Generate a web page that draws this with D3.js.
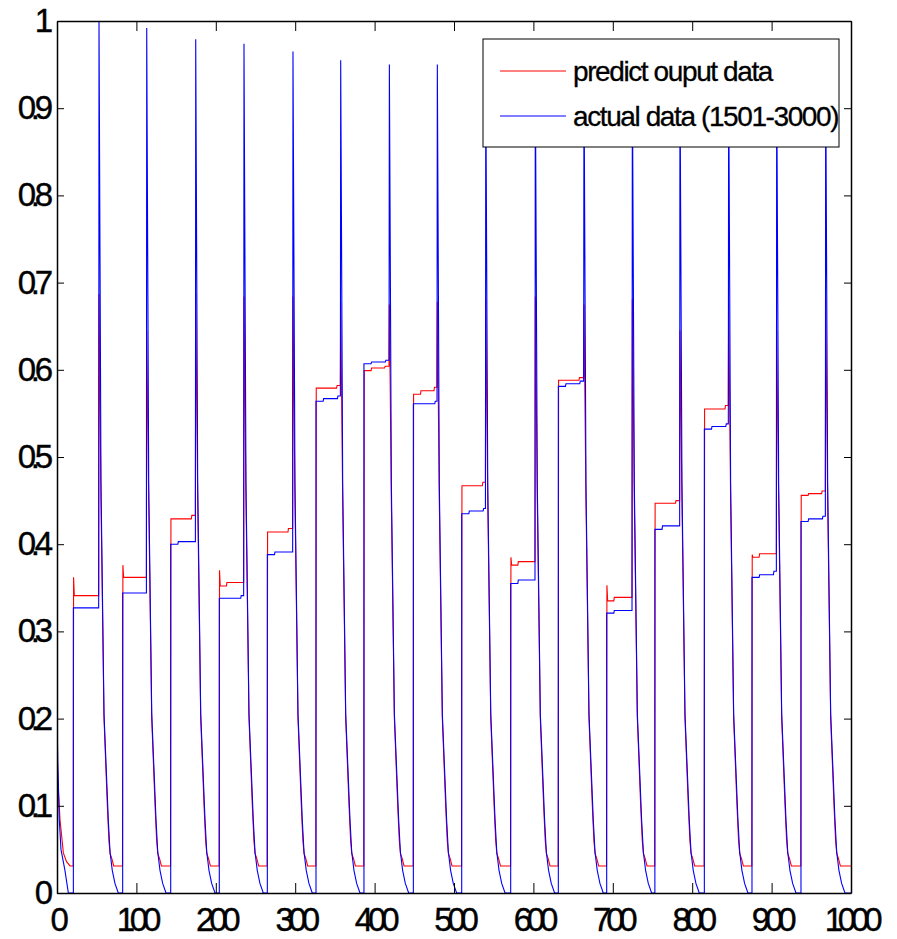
<!DOCTYPE html>
<html>
<head>
<meta charset="utf-8">
<script src="https://cdn.jsdelivr.net/npm/d3@7"></script>
<style>
  body { margin: 0; background: #fff; }
  svg { display: block; }
  text { font-family: "Liberation Sans", Arial, sans-serif; fill: #000; }
</style>
</head>
<body>
<script>
var w = 897;
var h = 939;
var margin = {top: 21, right: 46, bottom: 46, left: 57};

// x positions (sample index) where each cycle rises and where it spikes
var riseX = [20.6, 82.7, 143.2, 204.4, 264.9, 326.2, 386.6, 448.8, 509.7, 571.4, 631.4, 692.3, 753, 815.3, 875.3, 937];
var spikeX = [52.9, 113, 174.7, 235.5, 297.2, 357.3, 418.6, 479, 540, 602.4, 663.7, 724.6, 784.6, 845.9, 906.4, 968.1];

// actual data: plateau levels [start, middle, end] and spike heights
var blueLevels = [
    [0.327, 0.327, 0.327], [0.344, 0.344, 0.344], [0.400, 0.403, 0.403], [0.338, 0.338, 0.341],
    [0.388, 0.391, 0.391], [0.564, 0.567, 0.570], [0.607, 0.609, 0.611], [0.561, 0.561, 0.564],
    [0.435, 0.438, 0.441], [0.355, 0.359, 0.359], [0.581, 0.584, 0.587], [0.321, 0.324, 0.324],
    [0.417, 0.421, 0.421], [0.532, 0.535, 0.538], [0.362, 0.365, 0.369], [0.426, 0.429, 0.432]
];
var bluePeaks = [1.0, 0.992, 0.979, 0.974, 0.965, 0.955, 0.95, 0.95, 0.945, 0.945, 0.945, 0.945, 0.945, 0.945, 0.945, 0.945];

// predicted data: [first sample, start, middle, end] and spike heights
var redLevels = [
    [0.362, 0.341, 0.341, 0.341], [0.376, 0.362, 0.362, 0.362], [0.429, 0.429, 0.429, 0.433], [0.370, 0.352, 0.356, 0.356],
    [0.414, 0.414, 0.414, 0.418], [0.579, 0.579, 0.579, 0.582], [0.599, 0.599, 0.602, 0.604], [0.572, 0.572, 0.576, 0.580],
    [0.467, 0.467, 0.467, 0.471], [0.385, 0.376, 0.380, 0.380], [0.588, 0.588, 0.588, 0.591], [0.353, 0.335, 0.339, 0.339],
    [0.447, 0.447, 0.447, 0.450], [0.555, 0.555, 0.555, 0.559], [0.388, 0.385, 0.389, 0.389], [0.456, 0.456, 0.458, 0.461]
];
var redPeaks = [0.687, 0.645, 0.687, 0.684, 0.684, 0.678, 0.675, 0.678, 0.681, 0.684, 0.675, 0.681, 0.645, 0.678, 0.645, 0.681];

// decay after a spike: [samples after spike, value]
var blueDecay = [[2.5, 0.47], [6.3, 0.206], [11.7, 0.084], [13.9, 0.047], [16.7, 0.026], [20.1, 0.011], [24.3, 0]];
var redDecay = [[2.5, 0.45], [6.3, 0.2], [10.5, 0.1], [12.5, 0.06], [14, 0.045], [16, 0.04], [18.5, 0.031]];
var blueFloor = 0;
var redFloor = 0.031;

// start of the record (before first rise)
var blueHead = [[0, 0.205], [1, 0.15], [2.9, 0.084], [5, 0.05], [10, 0.026], [14.3, 0]];
var redHead = [[0, 0.17], [1, 0.13], [3.8, 0.084], [8, 0.046], [12, 0.036], [16.4, 0.031]];

var xTicks = [0, 100, 200, 300, 400, 500, 600, 700, 800, 900, 1000];
var yTicks = [0, 0.1, 0.2, 0.3, 0.4, 0.5, 0.6, 0.7, 0.8, 0.9, 1];
var legendLabels = ["predict ouput data", "actual data (1501-3000)"];
var colors = ["#ff0000", "#0000ff"];

// build the polylines
function buildBlue() {
    var pts = blueHead.slice();
    riseX.forEach(function(r, i) {
        var s = spikeX[i], lv = blueLevels[i];
        pts.push([r, blueFloor], [r, lv[0]], [r + 9, lv[0]], [r + 9.6, lv[1]], [r + 27, lv[1]], [r + 27.6, lv[2]]);
        pts.push([s - 0.4, lv[2]], [s, bluePeaks[i]]);
        blueDecay.forEach(function(d) { pts.push([s + d[0], d[1]]); });
    });
    pts.push([1000, blueFloor]);
    return pts;
}

function buildRed() {
    var pts = redHead.slice();
    riseX.forEach(function(r, i) {
        var s = spikeX[i], lv = redLevels[i];
        pts.push([r - 0.2, redFloor], [r + 0.3, lv[0]], [r + 1.2, lv[1]], [r + 9, lv[1]], [r + 9.6, lv[2]], [r + 26, lv[2]], [r + 26.6, lv[3]]);
        pts.push([s - 0.4, lv[3]], [s, redPeaks[i]]);
        redDecay.forEach(function(d) { pts.push([s + d[0], d[1]]); });
    });
    pts.push([1000, redFloor]);
    return pts;
}

var svg = d3.select("body")
    .append("svg")
    .attr("width", w)
    .attr("height", h);

var x = d3.scaleLinear().domain([0, 1000]).range([margin.left, w - margin.right]);
var y = d3.scaleLinear().domain([0, 1]).range([h - margin.bottom, margin.top]);

svg.append("clipPath").attr("id", "plotclip")
    .append("rect")
    .attr("x", margin.left).attr("y", margin.top - 1)
    .attr("width", w - margin.left - margin.right)
    .attr("height", h - margin.top - margin.bottom + 1);

var line = d3.line()
    .x(function(d) { return x(d[0]); })
    .y(function(d) { return y(d[1]); });

var plot = svg.append("g").attr("clip-path", "url(#plotclip)");

plot.append("path")
    .attr("d", line(buildRed()))
    .attr("fill", "none")
    .attr("stroke", colors[0])
    .attr("stroke-width", 1.1);

plot.append("path")
    .attr("d", line(buildBlue()))
    .attr("fill", "none")
    .attr("stroke", colors[1])
    .attr("stroke-width", 1.1);

// axes (box with inward ticks on all sides)
var xBottom = d3.axisBottom(x).tickValues(xTicks).tickSizeInner(-10).tickSizeOuter(0).tickFormat("");
var xTop = d3.axisTop(x).tickValues(xTicks).tickSizeInner(-10).tickSizeOuter(0).tickFormat("");
var yLeft = d3.axisLeft(y).tickValues(yTicks).tickSizeInner(-7).tickSizeOuter(0).tickFormat("");
var yRight = d3.axisRight(y).tickValues(yTicks).tickSizeInner(-7).tickSizeOuter(0).tickFormat("");

svg.append("g").attr("transform", "translate(0," + (h - margin.bottom) + ")").call(xBottom);
svg.append("g").attr("transform", "translate(0," + margin.top + ")").call(xTop);
svg.append("g").attr("transform", "translate(" + margin.left + ",0)").call(yLeft);
svg.append("g").attr("transform", "translate(" + (w - margin.right) + ",0)").call(yRight);

svg.selectAll(".domain").attr("stroke", "#000").attr("stroke-width", 1.5);
svg.selectAll(".tick line").attr("stroke", "#000").attr("stroke-width", 1);

// tick labels
svg.append("g").selectAll("text")
    .data(xTicks)
    .enter().append("text")
    .attr("x", function(d) { return x(d); })
    .attr("y", h - margin.bottom + 38)
    .attr("text-anchor", "middle")
    .style("font-size", "33px")
    .style("letter-spacing", "-5.2px")
    .style("stroke", "#000")
    .style("stroke-width", "0.4px")
    .text(function(d) { return d; });

svg.append("g").selectAll("text")
    .data(yTicks)
    .enter().append("text")
    .attr("x", margin.left - 9)
    .attr("y", function(d) { return y(d) + 11; })
    .attr("text-anchor", "end")
    .style("font-size", "33px")
    .style("letter-spacing", "-5.2px")
    .style("stroke", "#000")
    .style("stroke-width", "0.4px")
    .text(function(d) { return d; });

// legend
var legend = svg.append("g").attr("class", "legend");
legend.append("rect")
    .attr("x", 483).attr("y", 39)
    .attr("width", 356).attr("height", 108)
    .attr("fill", "#fff")
    .attr("stroke", "#000")
    .attr("stroke-width", 1);

var items = legend.selectAll("g.item")
    .data(legendLabels)
    .enter().append("g")
    .attr("class", "item")
    .attr("transform", function(d, i) { return "translate(0," + (71 + i * 45) + ")"; });

items.append("line")
    .attr("x1", 500).attr("x2", 566)
    .attr("y1", 0).attr("y2", 0)
    .attr("stroke", function(d, i) { return colors[i]; })
    .attr("stroke-width", 1);

items.append("text")
    .attr("x", 573)
    .attr("y", 10)
    .style("font-size", "28px")
    .style("letter-spacing", "-1.4px")
    .style("stroke", "#000")
    .style("stroke-width", "0.3px")
    .text(function(d) { return d; });
</script>
</body>
</html>
